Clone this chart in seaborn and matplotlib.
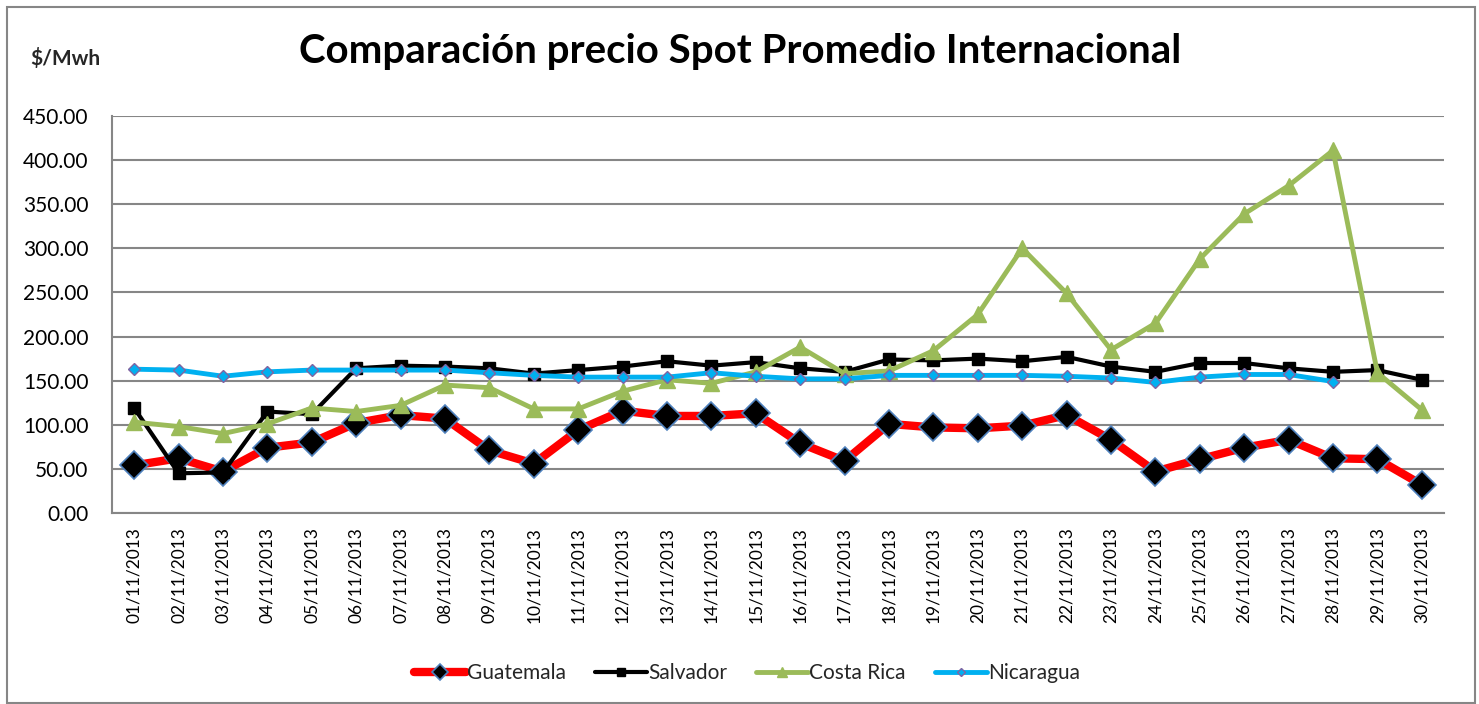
import numpy as np
import pandas as pd
import matplotlib
matplotlib.use("Agg")
import matplotlib.pyplot as plt
from matplotlib.patches import Rectangle
import seaborn as sns

# fechas del mes de noviembre 2013
fechas = ["%02d/11/2013" % d for d in range(1, 31)]

guatemala = [54, 62, 47, 74, 80, 102, 111, 107, 71, 56,
             94, 116, 110, 110, 113, 79, 59, 101, 97, 96,
             99, 111, 83, 47, 61, 74, 83, 62, 61, 32]
salvador = [119, 45, 46, 115, 112, 164, 167, 166, 164, 158,
            162, 166, 172, 167, 171, 164, 160, 174, 173, 175,
            172, 177, 166, 160, 170, 170, 164, 160, 162, 151]
costa_rica = [103, 98, 90, 101, 119, 115, 122, 145, 142, 118,
              118, 138, 151, 147, 160, 188, 158, 161, 184, 225,
              300, 249, 185, 215, 288, 339, 371, 411, 159, 117]
nicaragua = [163, 162, 155, 160, 162, 162, 162, 162, 159, 156,
             154, 154, 154, 159, 155, 152, 152, 156, 156, 156,
             156, 155, 153, 148, 154, 157, 157, 149, np.nan, np.nan]

df = pd.DataFrame({"idx": range(len(fechas)), "fecha": fechas,
                   "Guatemala": guatemala, "Salvador": salvador,
                   "Costa Rica": costa_rica, "Nicaragua": nicaragua})

sns.set_style("white")
plt.rcParams["font.family"] = ["Lato", "DejaVu Sans"]

fig = plt.figure(figsize=(14.79, 7.04), dpi=100)
ax = fig.add_axes([112 / 1479, 1 - 513 / 704, (1444 - 112) / 1479, (513 - 116) / 704])

# estilo de cada serie (tipo excel)
estilos = {
    "Guatemala": dict(color="#FF0000", lw=6, marker="D", ms=14, mfc="black", mec="#4F81BD", mew=1.2),
    "Salvador": dict(color="black", lw=3, marker="s", ms=9, mfc="black", mec="black", mew=1),
    "Costa Rica": dict(color="#9BBB59", lw=3.5, marker="^", ms=12, mfc="#9BBB59", mec="#9BBB59", mew=1),
    "Nicaragua": dict(color="#00B0F0", lw=3.5, marker="D", ms=6.5, mfc="#00B0F0", mec="#8064A2", mew=1),
}
for pais, st in estilos.items():
    sns.lineplot(data=df, x="idx", y=pais, ax=ax, label=pais, color=st["color"],
                 linewidth=st["lw"], marker=st["marker"], markersize=st["ms"],
                 markerfacecolor=st["mfc"], markeredgecolor=st["mec"],
                 markeredgewidth=st["mew"], legend=False)

ax.set_xlim(-0.5, len(fechas) - 0.5)
ax.set_ylim(0, 450)
ax.set_yticks(np.arange(0, 451, 50))
ax.set_yticklabels(["%.2f" % v for v in np.arange(0, 451, 50)], fontsize=15)
ax.set_xticks(df["idx"])
ax.set_xticklabels(fechas, rotation=90, fontsize=12.5)
ax.tick_params(axis="y", length=0, pad=17, colors="black")
ax.tick_params(axis="x", length=0, pad=10, colors="black")
ax.set_xlabel("")
ax.set_ylabel("")
ax.yaxis.grid(True, color="#868686", linewidth=1.5)
ax.set_axisbelow(True)
for s in ["top", "right"]:
    ax.spines[s].set_visible(False)
for s in ["left", "bottom"]:
    ax.spines[s].set_color("#868686")
    ax.spines[s].set_linewidth(1.5)

fig.text(740 / 1479, 1 - 52 / 704, "Comparación precio Spot Promedio Internacional",
         ha="center", va="center", fontsize=29, fontweight="bold", color="black")
fig.text(30 / 1479, 1 - 58 / 704, "$/Mwh", ha="left", va="center", fontsize=15, fontweight="bold")

handles, labels = ax.get_legend_handles_labels()
fig.legend(handles, labels, loc="center", bbox_to_anchor=(747 / 1479, 1 - 673 / 704), ncol=4,
           frameon=False, fontsize=15, handlelength=2.5, handletextpad=0.05, columnspacing=1.4,
           markerscale=0.6)

fig.add_artist(Rectangle((7 / 1479, 0.002), (1475 - 7) / 1479, (698 - 2) / 704,
                         transform=fig.transFigure, fill=False, edgecolor="#868686", linewidth=1.5))

fig.savefig("out.png", dpi=100)
